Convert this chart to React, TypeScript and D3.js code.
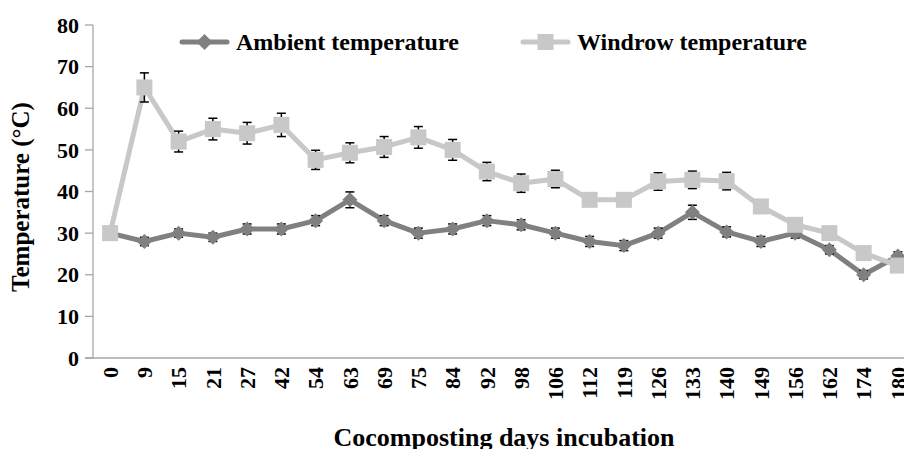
import React, { useEffect, useRef } from 'react';
import * as d3 from 'd3';

const days = ['0', '9', '15', '21', '27', '42', '54', '63', '69', '75', '84', '92', '98', '106', '112', '119', '126', '133', '140', '149', '156', '162', '174', '180'];
const ambient = [30, 28, 30, 29, 31, 31, 33, 38, 33, 30, 31, 33, 32, 30, 28, 27, 30, 35, 30.3, 28, 30, 26, 20, 24.5];
const ambientErr = [1, 1, 1, 1, 1.2, 1.2, 1.2, 1.9, 1.2, 1.2, 1.2, 1.2, 1.2, 1.2, 1.2, 1.2, 1.2, 1.7, 1.2, 1.2, 1.2, 1, 1, 1];
const windrow = [30, 65, 52, 55, 54, 56, 47.6, 49.3, 50.7, 53, 50, 44.8, 42, 43, 38, 38, 42.4, 42.8, 42.5, 36.4, 32, 30, 25.2, 22.2];
const windrowErr = [1, 3.5, 2.5, 2.6, 2.6, 2.8, 2.3, 2.4, 2.5, 2.6, 2.5, 2.2, 2.2, 2.1, 1.5, 1.5, 2.1, 2.1, 2.1, 1, 1, 1, 1, 1];
const yTicks = [0, 10, 20, 30, 40, 50, 60, 70, 80];

const FONT = '"Liberation Serif", "Times New Roman", serif';

export default function App() {
  const svgRef = useRef<SVGSVGElement>(null);

  useEffect(() => {
    if (!svgRef.current) return;
    const svg = d3.select(svgRef.current);
    svg.selectAll('*').remove();

    const W = 904;
    const H = 449;
    svg.attr('width', W).attr('height', H);

    const x = d3.scaleBand<string>().domain(days).range([93, 915]);
    const cx = (d: string) => (x(d) as number) + x.bandwidth() / 2;
    const y = d3.scaleLinear().domain([0, 80]).range([358, 25]);

    // axes
    svg.append('line')
      .attr('x1', 93).attr('x2', 93).attr('y1', y(80)).attr('y2', y(0))
      .attr('stroke', '#a6a6a6').attr('stroke-width', 1.3);
    svg.append('line')
      .attr('x1', 85).attr('x2', W).attr('y1', y(0)).attr('y2', y(0))
      .attr('stroke', '#a6a6a6').attr('stroke-width', 1.3);

    yTicks.forEach((t) => {
      svg.append('line')
        .attr('x1', 85).attr('x2', 93).attr('y1', y(t)).attr('y2', y(t))
        .attr('stroke', '#a6a6a6').attr('stroke-width', 1.3);
      svg.append('text')
        .attr('x', 79).attr('y', y(t))
        .attr('dy', '0.35em')
        .attr('text-anchor', 'end')
        .attr('font-family', FONT).attr('font-weight', 'bold').attr('font-size', 22)
        .attr('fill', '#000')
        .text(t);
    });

    days.forEach((d) => {
      svg.append('text')
        .attr('transform', `translate(${cx(d)},367) rotate(-90)`)
        .attr('dy', '0.35em')
        .attr('text-anchor', 'end')
        .attr('font-family', FONT).attr('font-weight', 'bold').attr('font-size', 22)
        .attr('fill', '#000')
        .text(d);
    });

    // axis titles
    svg.append('text')
      .attr('x', 504).attr('y', 446)
      .attr('text-anchor', 'middle')
      .attr('font-family', FONT).attr('font-weight', 'bold').attr('font-size', 26)
      .text('Cocomposting days incubation');
    svg.append('text')
      .attr('transform', 'translate(29,197) rotate(-90)')
      .attr('text-anchor', 'middle')
      .attr('font-family', FONT).attr('font-weight', 'bold').attr('font-size', 25)
      .text('Temperature (°C)');

    const line = d3.line<number>()
      .x((_, i) => cx(days[i]))
      .y((v) => y(v));

    const drawErr = (vals: number[], errs: number[]) => {
      const g = svg.append('g').attr('stroke', '#000').attr('stroke-width', 1.5);
      vals.forEach((v, i) => {
        const px = cx(days[i]);
        const top = y(v + errs[i]);
        const bot = y(v - errs[i]);
        g.append('line').attr('x1', px).attr('x2', px).attr('y1', top).attr('y2', bot);
        g.append('line').attr('x1', px - 4.5).attr('x2', px + 4.5).attr('y1', top).attr('y2', top);
        g.append('line').attr('x1', px - 4.5).attr('x2', px + 4.5).attr('y1', bot).attr('y2', bot);
      });
    };

    const diamond = (px: number, py: number, s = 7.5) =>
      `M${px},${py - s}L${px + s},${py}L${px},${py + s}L${px - s},${py}Z`;

    // ambient series
    svg.append('path').datum(ambient)
      .attr('d', line).attr('fill', 'none')
      .attr('stroke', '#808080').attr('stroke-width', 5).attr('stroke-linejoin', 'round');
    drawErr(ambient, ambientErr);
    svg.append('g').selectAll('path').data(ambient).join('path')
      .attr('d', (v, i) => diamond(cx(days[i]), y(v)))
      .attr('fill', '#808080');

    // windrow series
    svg.append('path').datum(windrow)
      .attr('d', line).attr('fill', 'none')
      .attr('stroke', '#c8c8c8').attr('stroke-width', 5).attr('stroke-linejoin', 'round');
    drawErr(windrow, windrowErr);
    svg.append('g').selectAll('rect').data(windrow).join('rect')
      .attr('x', (_, i) => cx(days[i]) - 8).attr('y', (v) => y(v) - 8)
      .attr('width', 16).attr('height', 16)
      .attr('fill', '#c8c8c8');

    // legend
    const legend = [
      { label: 'Ambient temperature', color: '#808080', x0: 182, shape: 'diamond' },
      { label: 'Windrow temperature', color: '#c8c8c8', x0: 523, shape: 'square' },
    ];
    legend.forEach((l) => {
      const ly = 42;
      svg.append('line')
        .attr('x1', l.x0).attr('x2', l.x0 + 45).attr('y1', ly).attr('y2', ly)
        .attr('stroke', l.color).attr('stroke-width', 5).attr('stroke-linecap', 'round');
      if (l.shape === 'diamond') {
        svg.append('path').attr('d', diamond(l.x0 + 22.5, ly, 8)).attr('fill', l.color);
      } else {
        svg.append('rect')
          .attr('x', l.x0 + 22.5 - 8).attr('y', ly - 8)
          .attr('width', 16).attr('height', 16).attr('fill', l.color);
      }
      svg.append('text')
        .attr('x', l.x0 + 54).attr('y', ly + 8)
        .attr('font-family', FONT).attr('font-weight', 'bold').attr('font-size', 24)
        .text(l.label);
    });
  }, []);

  return <svg ref={svgRef} style={{ position: 'absolute', left: 0, top: 0, background: '#fff' }} />;
}
